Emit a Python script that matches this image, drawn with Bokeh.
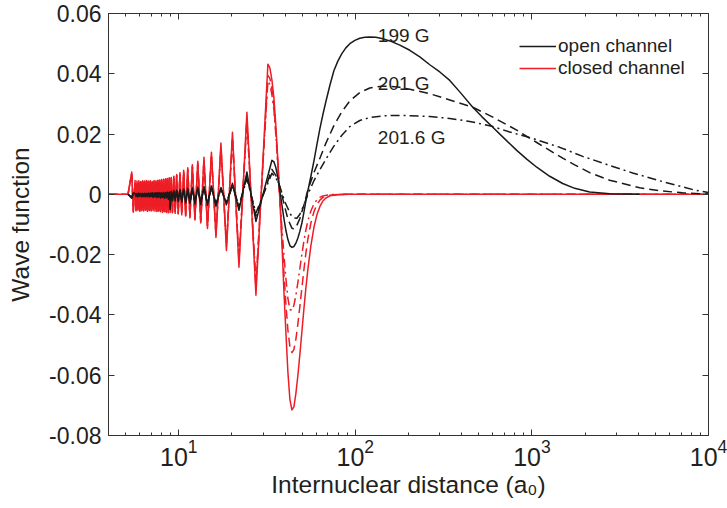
from bokeh.plotting import figure
from bokeh.models import (LogAxis, LinearAxis, FixedTicker, CustomJSTickFormatter,
                          Legend, LegendItem, Label, ColumnDataSource)
from bokeh.embed import file_html
from bokeh.resources import INLINE

# ---------------- data ----------------
# positions (a0) of the short-range oscillation extrema, shared by all six curves
x_osc = [5.159, 5.414, 5.528,
         5.657, 5.727, 5.799, 5.871, 5.944, 6.018, 6.093, 6.169, 6.246, 6.324, 6.403, 6.482,
         6.563, 6.645, 6.728, 6.811, 6.896, 6.982, 7.069, 7.157, 7.246, 7.336, 7.428, 7.520,
         7.614, 7.709, 7.805, 7.902, 8.000, 8.100, 8.201, 8.303, 8.406, 8.511, 8.617, 8.724, 8.833,
         8.94, 9.07, 9.21, 9.37, 9.54, 9.73, 9.93, 10.16, 10.40, 10.66, 10.94, 11.24, 11.57,
         11.94, 12.35, 12.81, 13.32, 13.89, 14.54, 15.31, 16.24, 17.33, 18.62, 20.14, 21.92,
         24.32, 27.35]

# ---- open channel ----
y_open_199_osc = [0, -0.0013, 0.0005,
                  0.0003, -0.0007, 0.0003, -0.0008, 0.0004, -0.0006, 0.0003, -0.0008, 0.0003, -0.0007,
                  0.0004, -0.0008, 0.0003, -0.0007, 0.0004, -0.0009, 0.0004, -0.0007, 0.0005, -0.0010,
                  0.0004, -0.0008, 0.0005, -0.0011, 0.0005, -0.0009, 0.0006, -0.0012, 0.0005, -0.0010,
                  0.0006, -0.0013, 0.0006, -0.0011, 0.0007, -0.0016, 0.0007,
                  -0.0050, 0.0010, -0.0020, 0.0012, -0.0022, 0.0014, -0.0024, 0.0016, -0.0026, 0.0018,
                  -0.0028, 0.0020, -0.0030, 0.0022, -0.0032, 0.0024, -0.0034, 0.0026, -0.0036, 0.0028,
                  -0.0040, 0.0023, -0.0035, 0.0037, -0.0053, 0.0074, -0.0090]
x_open_199_main = [33.69, 34.58, 35.49, 36.43, 37.39, 38.38, 39.39, 40.44, 41.50, 42.60, 43.72, 44.88,
                   46.06, 47.28, 48.53, 49.81, 51.13, 52.48, 53.86, 56.01, 58.25, 60.57, 62.99, 65.50,
                   68.12, 71.76, 75.59, 79.60, 83.87, 88.35, 93.08, 99.35, 106.0, 113.2, 120.8, 130.6,
                   141.2, 156.8, 178.6, 203.4, 231.8, 264.0, 300.8, 342.6, 390.3, 462.3, 519.9, 592.3,
                   701.6, 820.3, 934.5, 1065, 1261, 1494, 1747, 2124, 2756, 4074]
y_open_199_main = [0.0113, 0.0108, 0.0088, 0.0055, 0.0012, -0.0035, -0.0080, -0.0120, -0.0150, -0.0170,
                   -0.0176, -0.0173, -0.0162, -0.0145, -0.0122, -0.0095, -0.0060, -0.0022, 0.0012,
                   0.0060, 0.0110, 0.0165, 0.0218, 0.0265, 0.0308, 0.0362, 0.0410, 0.0442, 0.0467,
                   0.0486, 0.0500, 0.0511, 0.0518, 0.0521, 0.0522, 0.0521, 0.0517, 0.0509, 0.0495,
                   0.0478, 0.0456, 0.0430, 0.0406, 0.0378, 0.0340, 0.0289, 0.0258, 0.0226, 0.0184,
                   0.0146, 0.0117, 0.0090, 0.0060, 0.0036, 0.0020, 0.0008, 0.0002, 0.0]

y_open_201_osc = [0, -0.0010, 0.0004,
                  0.0003, -0.0006, 0.0002, -0.0007, 0.0003, -0.0005, 0.0002, -0.0007, 0.0003, -0.0006,
                  0.0003, -0.0007, 0.0002, -0.0006, 0.0003, -0.0008, 0.0003, -0.0006, 0.0004, -0.0009,
                  0.0003, -0.0007, 0.0004, -0.0009, 0.0004, -0.0008, 0.0005, -0.0010, 0.0004, -0.0009,
                  0.0005, -0.0011, 0.0005, -0.0009, 0.0006, -0.0013, 0.0006,
                  -0.0040, 0.0008, -0.0016, 0.0010, -0.0018, 0.0011, -0.0019, 0.0013, -0.0021, 0.0014,
                  -0.0022, 0.0016, -0.0024, 0.0018, -0.0026, 0.0019, -0.0027, 0.0021, -0.0029, 0.0022,
                  -0.0032, 0.0018, -0.0028, 0.0030, -0.0042, 0.0059, -0.0072]
x_open_201_main = [33.69, 35.49, 37.39, 39.39, 41.50, 43.72, 44.88, 46.06, 48.53, 51.13, 53.86, 58.25,
                   62.99, 68.12, 75.59, 83.87, 93.08, 106.0, 120.8, 141.2, 156.8, 178.6, 203.4, 264.0,
                   342.6, 462.3, 592.3, 820.3, 1065, 1261, 1494, 1747, 2124, 2756, 4074, 5288, 7138,
                   10000]
y_open_201_main = [0.0083, 0.0062, 0.0025, -0.0030, -0.0082, -0.0112, -0.0115, -0.0110, -0.0080,
                   -0.0035, 0.0015, 0.0072, 0.0120, 0.0170, 0.0228, 0.0274, 0.0310, 0.0338, 0.0353,
                   0.0359, 0.0358, 0.0355, 0.0349, 0.0334, 0.0313, 0.0289, 0.0258, 0.0213, 0.0172,
                   0.0146, 0.0120, 0.0098, 0.0072, 0.0047, 0.0022, 0.0012, 0.0005, 0.0001]

y_open_2016_osc = [0, -0.0009, 0.0003,
                   0.0002, -0.0005, 0.0002, -0.0006, 0.0003, -0.0005, 0.0002, -0.0006, 0.0002, -0.0005,
                   0.0003, -0.0006, 0.0002, -0.0005, 0.0003, -0.0007, 0.0003, -0.0005, 0.0003, -0.0008,
                   0.0003, -0.0006, 0.0004, -0.0008, 0.0003, -0.0007, 0.0004, -0.0009, 0.0004, -0.0008,
                   0.0004, -0.0010, 0.0004, -0.0008, 0.0005, -0.0011, 0.0005,
                   -0.0035, 0.0007, -0.0014, 0.0008, -0.0015, 0.0010, -0.0017, 0.0011, -0.0018, 0.0013,
                   -0.0020, 0.0014, -0.0021, 0.0015, -0.0022, 0.0017, -0.0024, 0.0018, -0.0025, 0.0020,
                   -0.0028, 0.0016, -0.0025, 0.0026, -0.0037, 0.0052, -0.0062]
x_open_2016_main = [33.69, 35.49, 37.39, 39.9, 43.15, 44.88, 46.66, 48.53, 51.13, 53.86, 58.25, 62.99,
                    68.12, 75.59, 83.87, 93.08, 106.0, 120.8, 141.2, 163, 203.4, 264.0, 342.6, 444.6,
                    592.3, 747.8, 1006, 1437, 1939, 2756, 3720, 5288, 7138, 8344, 10000]
y_open_2016_main = [0.0070, 0.0055, 0.0025, -0.0025, -0.0068, -0.0078, -0.0079, -0.0066, -0.0035,
                    0.0000, 0.0045, 0.0082, 0.0117, 0.0160, 0.0196, 0.0225, 0.0245, 0.0255, 0.0260,
                    0.0262, 0.0261, 0.0258, 0.0252, 0.0242, 0.0226, 0.0207, 0.0186, 0.0156, 0.0126,
                    0.0096, 0.0071, 0.0045, 0.0025, 0.0014, 0.0006]

# ---- closed channel ----
x_closed_lead = [4.0]      # flat zero from the left edge
y_closed_lead = [0.0]

y_closed_199_osc = [0, 0.0074, -0.0059,
                    0.0046, -0.0055, 0.0044, -0.0053, 0.0045, -0.0056, 0.0043, -0.0054, 0.0045, -0.0055,
                    0.0044, -0.0053, 0.0046, -0.0056, 0.0044, -0.0054, 0.0045, -0.0055, 0.0043, -0.0054,
                    0.0046, -0.0056, 0.0045, -0.0057, 0.0047, -0.0056, 0.0048, -0.0058, 0.0049, -0.0059,
                    0.0050, -0.0058, 0.0052, -0.0060, 0.0053, -0.0061, 0.0055,
                    -0.0060, 0.0056, -0.0061, 0.0060, -0.0063, 0.0066, -0.0065, 0.0072, -0.0068, 0.0080,
                    -0.0072, 0.0088, -0.0078, 0.0098, -0.0085, 0.0110, -0.0095, 0.0123, -0.0113, 0.0140,
                    -0.0143, 0.0170, -0.0186, 0.0206, -0.0242, 0.0272, -0.0335]
x_closed_199_main = [31.97, 32.81, 33.69, 34.58, 35.49, 36.43, 37.39, 38.38, 39.39, 40.44, 41.50, 42.60,
                     43.72, 44.88, 46.06, 47.28, 48.53, 49.81, 51.13, 52.48, 53.86, 56.01, 58.25, 60.57,
                     62.99, 65.50, 68.12, 71.76, 79.60, 93.08, 10000]
y_closed_199_main = [0.0432, 0.0420, 0.0380, 0.0320, 0.0225, 0.0110, -0.0020, -0.0160, -0.0320, -0.0460,
                     -0.0590, -0.0680, -0.0715, -0.0705, -0.0660, -0.0600, -0.0530, -0.0455, -0.0380,
                     -0.0310, -0.0248, -0.0170, -0.0110, -0.0068, -0.0040, -0.0022, -0.0012, -0.0005,
                     -0.0001, 0.0, 0.0]

y_closed_201_osc = [0, 0.0070, -0.0056,
                    0.0044, -0.0053, 0.0042, -0.0051, 0.0043, -0.0054, 0.0041, -0.0052, 0.0043, -0.0053,
                    0.0042, -0.0051, 0.0044, -0.0054, 0.0042, -0.0052, 0.0043, -0.0053, 0.0041, -0.0052,
                    0.0044, -0.0054, 0.0043, -0.0055, 0.0045, -0.0054, 0.0046, -0.0056, 0.0047, -0.0057,
                    0.0048, -0.0056, 0.0050, -0.0058, 0.0051, -0.0059, 0.0053,
                    -0.0058, 0.0054, -0.0059, 0.0058, -0.0061, 0.0063, -0.0063, 0.0069, -0.0066, 0.0076,
                    -0.0070, 0.0084, -0.0075, 0.0093, -0.0082, 0.0104, -0.0091, 0.0116, -0.0107, 0.0132,
                    -0.0135, 0.0158, -0.0172, 0.0190, -0.0222, 0.0250, -0.0310]
x_closed_201_main = [31.97, 32.81, 33.69, 34.58, 35.49, 36.43, 37.39, 38.38, 39.39, 40.44, 41.50, 42.60,
                     43.72, 44.88, 46.06, 47.28, 48.53, 49.81, 51.13, 52.48, 53.86, 56.01, 58.25, 60.57,
                     62.99, 65.50, 68.12, 75.59, 87.21, 10000]
y_closed_201_main = [0.0395, 0.0385, 0.0350, 0.0295, 0.0205, 0.0100, -0.0020, -0.0140, -0.0260, -0.0365,
                     -0.0450, -0.0505, -0.0525, -0.0515, -0.0480, -0.0430, -0.0370, -0.0310, -0.0250,
                     -0.0195, -0.0148, -0.0095, -0.0058, -0.0034, -0.0019, -0.0010, -0.0005, -0.0001,
                     0.0, 0.0]

y_closed_2016_osc = [0, 0.0068, -0.0054,
                     0.0043, -0.0052, 0.0041, -0.0050, 0.0042, -0.0053, 0.0040, -0.0051, 0.0042, -0.0052,
                     0.0041, -0.0050, 0.0043, -0.0053, 0.0041, -0.0051, 0.0042, -0.0052, 0.0040, -0.0051,
                     0.0043, -0.0053, 0.0042, -0.0054, 0.0044, -0.0053, 0.0045, -0.0055, 0.0046, -0.0056,
                     0.0047, -0.0055, 0.0049, -0.0057, 0.0050, -0.0058, 0.0052,
                     -0.0057, 0.0053, -0.0058, 0.0057, -0.0060, 0.0062, -0.0062, 0.0067, -0.0065, 0.0074,
                     -0.0068, 0.0081, -0.0073, 0.0090, -0.0079, 0.0100, -0.0087, 0.0111, -0.0102, 0.0126,
                     -0.0128, 0.0150, -0.0163, 0.0180, -0.0210, 0.0240, -0.0290]
x_closed_2016_main = [31.97, 32.81, 33.69, 34.58, 35.49, 36.43, 37.39, 38.38, 39.39, 40.44, 41.50, 42.60,
                      43.72, 44.88, 46.06, 47.28, 48.53, 49.81, 51.13, 52.48, 53.86, 56.01, 58.25, 60.57,
                      62.99, 65.50, 71.76, 87.21, 10000]
y_closed_2016_main = [0.0375, 0.0365, 0.0330, 0.0280, 0.0195, 0.0095, -0.0015, -0.0110, -0.0200,
                      -0.0280, -0.0345, -0.0382, -0.0385, -0.0368, -0.0335, -0.0292, -0.0245, -0.0198,
                      -0.0155, -0.0118, -0.0088, -0.0055, -0.0032, -0.0018, -0.0010, -0.0005, -0.0001,
                      0.0, 0.0]

x_major_ticks = [10, 100, 1000, 10000]
x_minor_ticks = [4, 5, 6, 7, 8, 9, 20, 30, 40, 50, 60, 70, 80, 90,
                 200, 300, 400, 500, 600, 700, 800, 900,
                 2000, 3000, 4000, 5000, 6000, 7000, 8000, 9000]
y_ticks = [-0.08, -0.06, -0.04, -0.02, 0.0, 0.02, 0.04, 0.06]

field_labels = ["199 G", "201 G", "201.6 G"]
legend_labels = ["open channel", "closed channel"]

# ---------------- figure ----------------
FONT = "Liberation Sans"
BLACK = "#1a1a1a"
RED = "#ee1c25"
TXT = "#231f20"

p = figure(width=727, height=508, x_axis_type="log", x_range=(4, 10000), y_range=(-0.08, 0.06),
           output_backend="svg", toolbar_location=None,
           min_border_left=108, min_border_right=19, min_border_top=13, min_border_bottom=73)
p.grid.visible = False
p.outline_line_color = "#333333"
p.background_fill_color = "white"
p.border_fill_color = "white"

xt = FixedTicker(ticks=x_major_ticks, minor_ticks=x_minor_ticks)
yt = FixedTicker(ticks=y_ticks, minor_ticks=[])
yfmt = CustomJSTickFormatter(code="return Math.abs(tick) < 1e-9 ? '0' : tick.toFixed(2);")
blank = CustomJSTickFormatter(code="return '';")


def style_axis(ax, show_labels, tick_size="23px"):
    ax.axis_line_color = "#333333"
    ax.major_tick_line_color = "#333333"
    ax.minor_tick_line_color = "#333333"
    ax.major_tick_in = 6
    ax.major_tick_out = 0
    ax.minor_tick_in = 3
    ax.minor_tick_out = 0
    if show_labels:
        ax.major_label_text_font = FONT
        ax.major_label_text_font_size = tick_size
        ax.major_label_text_color = TXT
        ax.axis_label_text_font = FONT
        ax.axis_label_text_font_size = "24.5px"
        ax.axis_label_text_font_style = "normal"
        ax.axis_label_text_color = TXT
    else:
        ax.formatter = blank
        ax.major_label_text_font_size = "1px"
        ax.major_label_standoff = 0


xa = p.xaxis[0]
xa.ticker = xt
style_axis(xa, True, "25px")
xa.major_label_standoff = 3
xa.axis_label = "Internuclear distance (a\u2080)"
xa.axis_label_standoff = 2

ya = p.yaxis[0]
ya.ticker = yt
ya.formatter = yfmt
style_axis(ya, True, "23px")
ya.major_label_standoff = 7
ya.axis_label = "Wave function"
ya.axis_label_standoff = 12

top = LogAxis(ticker=xt)
style_axis(top, False)
p.add_layout(top, "above")
right = LinearAxis(ticker=yt)
style_axis(right, False)
p.add_layout(right, "right")

curves = [
    ("closed", x_closed_lead + x_osc + x_closed_2016_main,
     y_closed_lead + y_closed_2016_osc + y_closed_2016_main, RED, "9 4 2 4"),
    ("closed", x_closed_lead + x_osc + x_closed_201_main,
     y_closed_lead + y_closed_201_osc + y_closed_201_main, RED, "9 5"),
    ("closed", x_closed_lead + x_osc + x_closed_199_main,
     y_closed_lead + y_closed_199_osc + y_closed_199_main, RED, "solid"),
    ("open", x_osc + x_open_2016_main, y_open_2016_osc + y_open_2016_main, BLACK, "9 4 2 4"),
    ("open", x_osc + x_open_201_main, y_open_201_osc + y_open_201_main, BLACK, "9 5"),
    ("open", x_osc + x_open_199_main, y_open_199_osc + y_open_199_main, BLACK, "solid"),
]
renderers = {}
for name, xs, ys, col, dash in curves:
    src = ColumnDataSource(data=dict(x=xs, y=ys))
    r = p.line("x", "y", source=src, line_color=col, line_width=1.5, line_dash=dash,
               line_join="round")
    if dash == "solid":
        renderers[name] = r

legend = Legend(items=[LegendItem(label=legend_labels[0], renderers=[renderers["open"]]),
                       LegendItem(label=legend_labels[1], renderers=[renderers["closed"]])],
                location=(411, 356))
legend.label_text_font = FONT
legend.label_text_font_size = "19px"
legend.label_text_color = TXT
legend.glyph_width = 37
legend.glyph_height = 22
legend.label_height = 22
legend.label_standoff = 2
legend.spacing = 0
legend.padding = 0
legend.margin = 0
legend.border_line_alpha = 0
legend.background_fill_alpha = 0
p.add_layout(legend)

label_pos = [(134.1, 0.0528), (134.1, 0.0369), (134.1, 0.0190)]
for txt, (lx, ly) in zip(field_labels, label_pos):
    p.add_layout(Label(x=lx, y=ly, text=txt, text_font=FONT, text_font_size="19px",
                       text_color=TXT, text_baseline="alphabetic", text_align="left"))

open("out.html", "w").write(file_html(p, INLINE))
